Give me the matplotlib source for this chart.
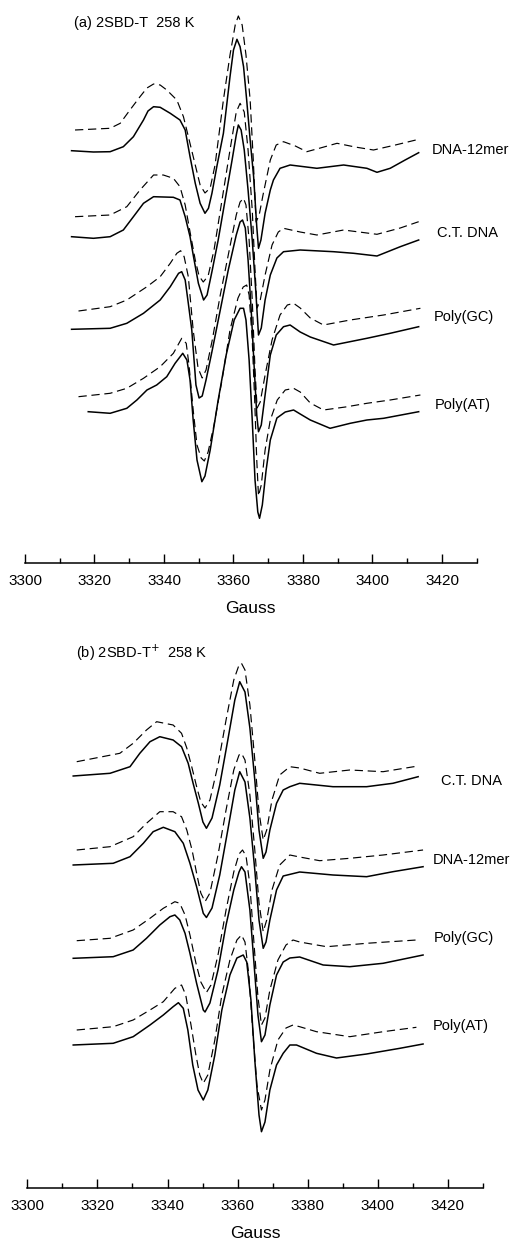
import matplotlib
matplotlib.use('Agg')
import matplotlib.pyplot as plt
from matplotlib.ticker import MultipleLocator

plt.rcParams['font.family'] = ['Liberation Sans', 'DejaVu Sans']

# ---- (a) 2SBD-T 258 K : field (G) / intensity (arb. units) ----
a_12mer_g = [3313.4, 3319.7, 3324.5, 3328.3, 3331.2, 3334.1, 3335.4, 3337.0, 3338.9, 3341.8,
             3344.6, 3346.1, 3347.5, 3349.0, 3350.4, 3351.8, 3352.8, 3353.8, 3355.2, 3357.1,
             3359.0, 3360.0, 3361.0, 3361.9, 3362.9, 3363.8, 3364.8, 3365.8, 3366.7, 3367.2,
             3367.9, 3369.1, 3370.6, 3371.5, 3373.4, 3376.3, 3384.0, 3391.7, 3398.4, 3401.3,
             3405.1, 3409.4, 3413.3]
a_12mer_i = [412.3, 411, 411.3, 416.3, 426.3, 443, 452, 456.3, 455.7, 449.7,
             443, 433, 406.3, 379.7, 359.7, 349.7, 354.7, 369.7, 396.3, 429.7,
             486.3, 513, 523.7, 516.3, 496.3, 463, 423, 386.3, 336.3, 314.7,
             323, 349.7, 373, 383, 394.7, 398, 394.7, 398, 394.7, 390.7,
             394.7, 403, 410.3]
a_12mer_dg = [3314.4, 3324.5, 3327.4, 3330.2, 3333.1, 3335.1, 3337.0, 3338.9, 3340.8, 3343.7,
              3345.6, 3346.9, 3349.0, 3350.4, 3351.8, 3353.3, 3354.7, 3357.1, 3359.0, 3360.5,
              3361.4, 3362.5, 3363.6, 3364.8, 3365.7, 3366.5, 3367.4, 3368.5, 3370.6, 3372.3,
              3374.4, 3377.8, 3381.1, 3385.0, 3389.8, 3395.0, 3400.3, 3406.6, 3413.3]
a_12mer_di = [433, 434.7, 439.7, 453, 466.3, 475, 479, 478, 473, 463,
              446.3, 428, 398, 378, 370, 375, 398, 463, 508, 538,
              547, 538, 508, 463, 403, 341, 348, 368, 403, 418,
              421.3, 417, 411.3, 415, 419.7, 416, 413, 418, 423.7]

a_ct_g = [3313.4, 3319.7, 3324.5, 3328.3, 3331.2, 3334.1, 3337.0, 3342.7, 3344.6, 3346.1,
          3347.5, 3348.5, 3349.9, 3351.4, 3352.4, 3353.9, 3355.6, 3357.6, 3359.6, 3360.8,
          3361.4, 3362.2, 3363.1, 3364.2, 3365.4, 3366.4, 3367.2, 3368.0, 3369.1, 3370.6,
          3372.5, 3374.4, 3379.2, 3388.8, 3394.6, 3401.3, 3408.0, 3413.3]
a_ct_i = [326.3, 324.7, 326.3, 333, 346.3, 359.7, 366.3, 365.7, 363, 346.3,
          326.3, 306.3, 279.7, 263, 268, 293, 323, 363, 403, 428,
          438, 433, 413, 373, 323, 273, 228, 235, 263, 288,
          305, 311.3, 313, 311.3, 309.7, 307, 316.3, 323]
a_ct_dg = [3314.4, 3324.5, 3329.3, 3333.1, 3337.0, 3339.8, 3342.7, 3344.6, 3346.1, 3347.5,
           3349.0, 3350.1, 3351.3, 3352.7, 3354.4, 3356.7, 3359.0, 3360.8, 3361.9, 3363.1,
           3364.2, 3365.4, 3366.2, 3366.8, 3367.7, 3369.1, 3371.1, 3372.9, 3374.4, 3379.2,
           3384.0, 3391.7, 3401.3, 3408.0, 3413.3]
a_ct_di = [346.3, 348, 356.3, 373, 388, 388, 384.7, 376.3, 358, 331,
           303, 287, 281, 287, 313, 363, 413, 451, 459.7, 451,
           413, 353, 293, 255, 263, 288, 318, 331, 334.7, 331,
           328, 333, 328.7, 335, 341.3]

a_gc_g = [3313.4, 3324.5, 3329.3, 3334.1, 3338.9, 3341.8, 3344.2, 3345.1, 3346.1, 3347.0,
          3348.0, 3349.2, 3350.1, 3351.0, 3352.1, 3353.9, 3356.2, 3358.5, 3360.8, 3361.9,
          3362.6, 3363.4, 3364.2, 3365.1, 3366.0, 3366.7, 3367.2, 3368.0, 3369.1, 3370.6,
          3372.3, 3374.4, 3376.3, 3379.2, 3382.1, 3388.8, 3398.4, 3405.1, 3413.3]
a_gc_i = [233.7, 234.7, 239.7, 249.7, 263, 276.3, 289.7, 291.3, 283, 259.7,
          233, 178, 165, 167, 183, 213, 253, 293, 328, 341,
          343, 335, 303, 253, 193, 148, 131.3, 138, 168, 208,
          228, 236.3, 238, 231, 226, 218, 224.7, 229.7, 236.3]
a_gc_dg = [3315.4, 3324.5, 3329.3, 3335.1, 3338.9, 3341.8, 3343.7, 3344.8, 3345.8, 3347.0,
           3348.4, 3349.8, 3351.0, 3352.1, 3353.9, 3356.2, 3358.5, 3360.8, 3361.9, 3362.9,
           3363.6, 3364.5, 3365.4, 3366.2, 3366.8, 3367.7, 3369.1, 3371.1, 3373.4, 3375.5,
           3377.3, 3379.2, 3382.1, 3385.9, 3393.6, 3403.2, 3413.8]
a_gc_di = [252, 256.3, 263, 276.3, 286.3, 299.7, 309.7, 312.3, 306.3, 286.3,
           233, 195, 185, 193, 223, 268, 308, 348, 361, 364.7,
           358, 323, 263, 193, 155, 161, 188, 223, 248, 258,
           259.7, 255, 245, 238, 243, 248, 254.7]

a_at_g = [3318.2, 3324.5, 3329.3, 3332.2, 3335.1, 3337.9, 3340.8, 3343.2, 3345.4, 3346.6,
          3347.5, 3348.4, 3349.5, 3350.9, 3351.8, 3353.3, 3355.6, 3357.9, 3360.2, 3361.9,
          3362.9, 3363.6, 3364.5, 3365.4, 3366.2, 3367.0, 3367.5, 3368.3, 3369.4, 3370.6,
          3372.5, 3374.9, 3377.3, 3379.2, 3382.1, 3387.8, 3393.6, 3398.4, 3403.2, 3413.3]
a_at_i = [151.3, 149.7, 154.7, 163, 173, 178, 186.3, 199.7, 209.7, 203,
          183, 143, 103, 81.3, 87, 113, 163, 208, 243, 254.7,
          254.7, 243, 203, 143, 83, 51, 44.7, 58, 93, 123,
          145, 151, 153, 149, 143, 134.7, 139.7, 143, 144.7, 151.3]
a_at_dg = [3315.4, 3324.5, 3329.3, 3334.1, 3338.9, 3342.7, 3345.1, 3346.4, 3347.2, 3348.4,
           3349.5, 3350.7, 3351.6, 3352.7, 3354.4, 3356.7, 3359.0, 3361.3, 3362.8, 3363.8,
           3364.5, 3365.4, 3366.1, 3366.7, 3367.2, 3368.0, 3369.1, 3370.6, 3372.6, 3374.9,
           3377.3, 3379.2, 3382.1, 3385.9, 3392.2, 3398.4, 3405.1, 3413.8]
a_at_di = [166.3, 169.7, 174.7, 184.7, 196.3, 209.7, 224.7, 219.7, 198, 153,
           118, 105, 102, 111, 138, 183, 233, 265, 276, 278,
           268, 223, 163, 103, 67, 78, 113, 143, 163, 173,
           174.7, 171, 160, 153, 156, 159.7, 163, 168]

# ---- (b) 2SBD-T+ 258 K ----
b_ct_g = [3313.1, 3323.6, 3329.3, 3332.1, 3335.0, 3337.8, 3341.6, 3344.0, 3345.9, 3347.3,
          3348.8, 3350.1, 3351.1, 3352.7, 3354.9, 3357.2, 3359.2, 3360.6, 3362.1, 3363.5,
          3364.9, 3366.1, 3367.3, 3368.1, 3369.2, 3371.1, 3373.0, 3374.9, 3377.7, 3387.2,
          3396.8, 3404.3, 3411.5]
b_ct_i = [412, 414.7, 421.3, 434.7, 446.3, 451.3, 448, 441.3, 424.7, 404.7,
          384.7, 366, 359.7, 370, 403, 448, 488, 506.3, 496, 460,
          408, 358, 329.7, 336, 358, 384.7, 398, 401.3, 404.7, 401.3,
          401.3, 404.7, 411.3]
b_ct_dg = [3314.1, 3326.4, 3330.2, 3334.0, 3336.9, 3341.6, 3344.0, 3345.5, 3347.0, 3348.4,
           3349.5, 3350.7, 3352.1, 3354.4, 3356.7, 3358.9, 3360.4, 3361.1, 3362.1, 3363.5,
           3364.9, 3366.1, 3367.3, 3368.3, 3369.8, 3372.0, 3374.9, 3377.7, 3383.4, 3392.0,
           3401.5, 3411.5]
b_ct_di = [426.3, 434.7, 444.7, 458, 466.3, 463, 454.7, 440, 420, 400,
           386, 380, 388, 423, 468, 508, 523, 524.7, 518, 483,
           428, 376, 348, 358, 388, 413, 421.3, 420, 414.7, 418,
           416.3, 422]

b_12mer_g = [3313.1, 3324.5, 3329.3, 3333.1, 3335.9, 3338.8, 3342.1, 3344.5, 3346.4, 3348.3,
             3350.2, 3351.1, 3352.7, 3354.9, 3357.2, 3359.2, 3360.6, 3362.1, 3363.5, 3364.9,
             3366.1, 3367.3, 3368.1, 3369.2, 3371.1, 3373.0, 3377.7, 3387.2, 3396.8, 3404.3,
             3412.9]
b_12mer_i = [323, 324.7, 331.3, 344.7, 356.3, 360.7, 356.3, 344.7, 324.7, 301.3,
             274.7, 270.5, 280, 313, 358, 398, 416.3, 406, 370, 318,
             268, 239.7, 246, 268, 298, 312, 316, 313, 311.3, 316.3,
             321.3]
b_12mer_dg = [3314.1, 3323.6, 3330.2, 3334.0, 3337.8, 3341.6, 3344.0, 3345.5, 3347.0, 3348.4,
              3349.5, 3350.7, 3352.1, 3354.4, 3356.7, 3358.9, 3360.4, 3361.1, 3362.1, 3363.5,
              3364.9, 3366.1, 3367.3, 3368.3, 3369.8, 3372.0, 3374.9, 3377.7, 3383.4, 3392.0,
              3401.5, 3412.9]
b_12mer_di = [338, 341.3, 351.3, 364.7, 376.3, 376.3, 371.3, 358, 338, 313,
              295, 286.3, 295, 333, 378, 418, 433, 434.7, 428, 393,
              338, 285, 256.3, 268, 298, 323, 333, 331, 327.3, 329.7,
              333, 338]

b_gc_g = [3313.1, 3324.5, 3330.2, 3334.0, 3337.8, 3340.7, 3342.1, 3343.5, 3345.0, 3346.4,
          3348.3, 3350.2, 3350.7, 3352.1, 3354.4, 3356.7, 3358.9, 3360.4, 3361.1, 3362.1,
          3363.5, 3364.6, 3365.8, 3366.8, 3367.8, 3369.2, 3371.1, 3373.0, 3374.9, 3377.7,
          3384.4, 3392.0, 3401.5, 3412.9]
b_gc_i = [229.7, 231.3, 238, 249.7, 263, 271.3, 273, 268, 254.7, 234.7,
          204.7, 178, 176, 185, 218, 263, 298, 316, 321.3, 316,
          278, 228, 173, 146.3, 153, 183, 213, 226, 230, 231,
          223, 221.3, 224.7, 233]
b_gc_dg = [3314.1, 3323.6, 3330.2, 3335.0, 3338.8, 3342.1, 3343.5, 3345.0, 3346.4, 3348.1,
           3349.5, 3351.1, 3352.4, 3354.4, 3356.7, 3358.9, 3360.4, 3361.4, 3362.4, 3363.5,
           3364.6, 3365.8, 3366.8, 3367.8, 3369.2, 3371.5, 3373.8, 3375.8, 3377.7, 3385.4,
           3396.8, 3411.0]
b_gc_di = [247.3, 249.7, 258, 269.7, 279.7, 286.3, 284.7, 273, 253, 225,
           206, 195.5, 203, 233, 278, 316, 334, 338, 332, 303,
           248, 191, 163, 170, 198, 228, 243, 248, 246, 241.3,
           244.7, 248]

b_at_g = [3313.1, 3324.5, 3330.2, 3335.0, 3338.8, 3341.6, 3343.1, 3344.5, 3345.8, 3347.2,
          3348.7, 3350.2, 3351.5, 3353.5, 3355.5, 3357.8, 3359.8, 3361.6, 3362.6, 3363.8,
          3364.9, 3366.1, 3366.8, 3367.8, 3369.2, 3371.1, 3373.0, 3374.9, 3376.8, 3382.5,
          3388.2, 3396.8, 3406.3, 3412.9]
b_at_i = [143, 144.7, 151.3, 163, 173, 181.3, 185.3, 179.7, 158, 123,
          98, 88, 98, 133, 178, 213, 230, 233, 226, 188,
          128, 73, 56.3, 66, 98, 123, 134.7, 143, 143, 134.7,
          130, 134, 139.7, 144]
b_at_dg = [3314.1, 3324.5, 3330.2, 3335.0, 3338.8, 3342.1, 3344.0, 3345.2, 3346.7, 3348.1,
           3349.2, 3350.2, 3351.5, 3353.5, 3355.5, 3357.8, 3359.8, 3361.1, 3362.1, 3363.2,
           3364.3, 3365.5, 3366.8, 3367.8, 3369.2, 3371.5, 3373.8, 3375.8, 3377.7, 3382.5,
           3392.0, 3401.5, 3411.0]
b_at_di = [158, 161.3, 168, 178, 186.3, 199.7, 203, 193, 163, 133,
           113, 104.7, 113, 148, 193, 228, 248, 253, 246, 213,
           158, 103, 78, 88, 118, 148, 160, 163, 161.3, 156.3,
           151.3, 156.3, 160.7]

samples_a = ['DNA-12mer', 'C.T. DNA', 'Poly(GC)', 'Poly(AT)']
samples_b = ['C.T. DNA', 'DNA-12mer', 'Poly(GC)', 'Poly(AT)']
ticks = [3300, 3320, 3340, 3360, 3380, 3400, 3420]

fig = plt.figure(figsize=(5.14, 12.41), dpi=100)
ax_a = fig.add_axes([25 / 514, 1 - 563 / 1241, 451.7 / 514, 563 / 1241])
ax_b = fig.add_axes([27.3 / 514, 1 - 1188 / 1241, 455.7 / 514, 558 / 1241])


def style_axis(ax, top):
    ax.set_xlim(3300, 3430)
    ax.set_ylim(0, top)
    for s in ['left', 'right', 'top']:
        ax.spines[s].set_visible(False)
    ax.spines['bottom'].set_linewidth(1.1)
    ax.set_yticks([])
    ax.set_xticks(ticks)
    ax.xaxis.set_minor_locator(MultipleLocator(10))
    ax.tick_params(axis='x', which='major', direction='in', length=6.5, width=1.0,
                   pad=8, labelsize=11)
    ax.tick_params(axis='x', which='minor', direction='in', length=3.5, width=1.0)
    ax.set_xlabel('Gauss', fontsize=12.5, labelpad=9)
    ax.patch.set_alpha(0)


def draw(ax, g, i, dg, di):
    ax.plot(g, i, color='black', lw=1.1, solid_joinstyle='round')
    ax.plot(dg, di, color='black', lw=0.85, ls=(0, (7, 4)))


style_axis(ax_a, 563)
draw(ax_a, a_12mer_g, a_12mer_i, a_12mer_dg, a_12mer_di)
draw(ax_a, a_ct_g, a_ct_i, a_ct_dg, a_ct_di)
draw(ax_a, a_gc_g, a_gc_i, a_gc_dg, a_gc_di)
draw(ax_a, a_at_g, a_at_i, a_at_dg, a_at_di)
ax_a.text(3314.1, 540, '(a) 2SBD-T  258 K', fontsize=10.5, va='center')
for name, (x, y) in zip(samples_a, [(3417.2, 413), (3418.7, 330), (3417.5, 246), (3417.8, 158)]):
    ax_a.text(x, y, name, fontsize=10.5, va='center', clip_on=False)

style_axis(ax_b, 558)
draw(ax_b, b_ct_g, b_ct_i, b_ct_dg, b_ct_di)
draw(ax_b, b_12mer_g, b_12mer_i, b_12mer_dg, b_12mer_di)
draw(ax_b, b_gc_g, b_gc_i, b_gc_dg, b_gc_di)
draw(ax_b, b_at_g, b_at_i, b_at_dg, b_at_di)
ax_b.text(3313.9, 535, '(b) 2SBD-T$^{+}$  258 K', fontsize=10.5, va='center')
for name, (x, y) in zip(samples_b, [(3417.9, 407), (3415.6, 328), (3416.0, 250), (3415.6, 162)]):
    ax_b.text(x, y, name, fontsize=10.5, va='center', clip_on=False)

fig.savefig('out.png', dpi=100)
